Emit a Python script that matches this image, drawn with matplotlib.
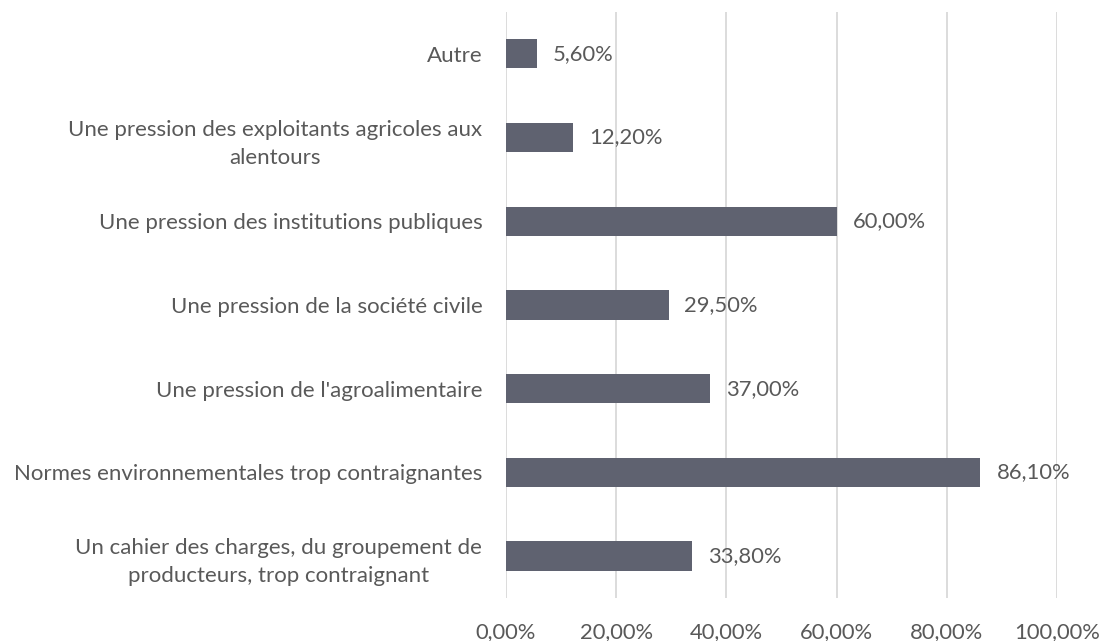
import matplotlib.pyplot as plt
import numpy as np

# data, top to bottom as in the chart
categories = ['Autre',
              'Une pression des exploitants agricoles aux\nalentours',
              'Une pression des institutions publiques',
              'Une pression de la société civile',
              "Une pression de l'agroalimentaire",
              'Normes environnementales trop contraignantes',
              'Un cahier des charges, du groupement de\nproducteurs, trop contraignant']
values = [5.6, 12.2, 60.0, 29.5, 37.0, 86.1, 33.8]
xticks = [0, 20, 40, 60, 80, 100]

plt.rcParams['font.family'] = ['Lato', 'DejaVu Sans']
text_col = '#595959'

fig = plt.figure(figsize=(11.03, 6.41), dpi=100)
ax = fig.add_axes([0.4587, 0.0671, 0.4996, 0.9142])

y = np.arange(len(categories))
ax.barh(y, values, height=0.35, color='#5f6270', zorder=3)
for yi, v in zip(y, values):
    ax.text(v + 2.9, yi, f'{v:.2f}%'.replace('.', ','), va='center', ha='left',
            fontsize=15.8, color=text_col)

ax.set_ylim(len(categories) - 0.5, -0.5)
ax.set_yticks(y)
ax.set_yticklabels(categories, fontsize=16, color=text_col)
for lab in ax.get_yticklabels():
    lab.set_multialignment('center')
    lab.set_linespacing(1.5)
ax.set_xlim(0, 100)
ax.set_xticks(xticks)
ax.set_xticklabels([f'{t:.2f}%'.replace('.', ',') for t in xticks], fontsize=15.8, color=text_col)
ax.tick_params(axis='y', length=0, pad=17)
ax.tick_params(axis='x', length=0, pad=17)
ax.grid(axis='x', color='#d9d9d9', linewidth=1.3, zorder=0)
for s in ax.spines.values():
    s.set_visible(False)

plt.savefig('out.png', dpi=100)
